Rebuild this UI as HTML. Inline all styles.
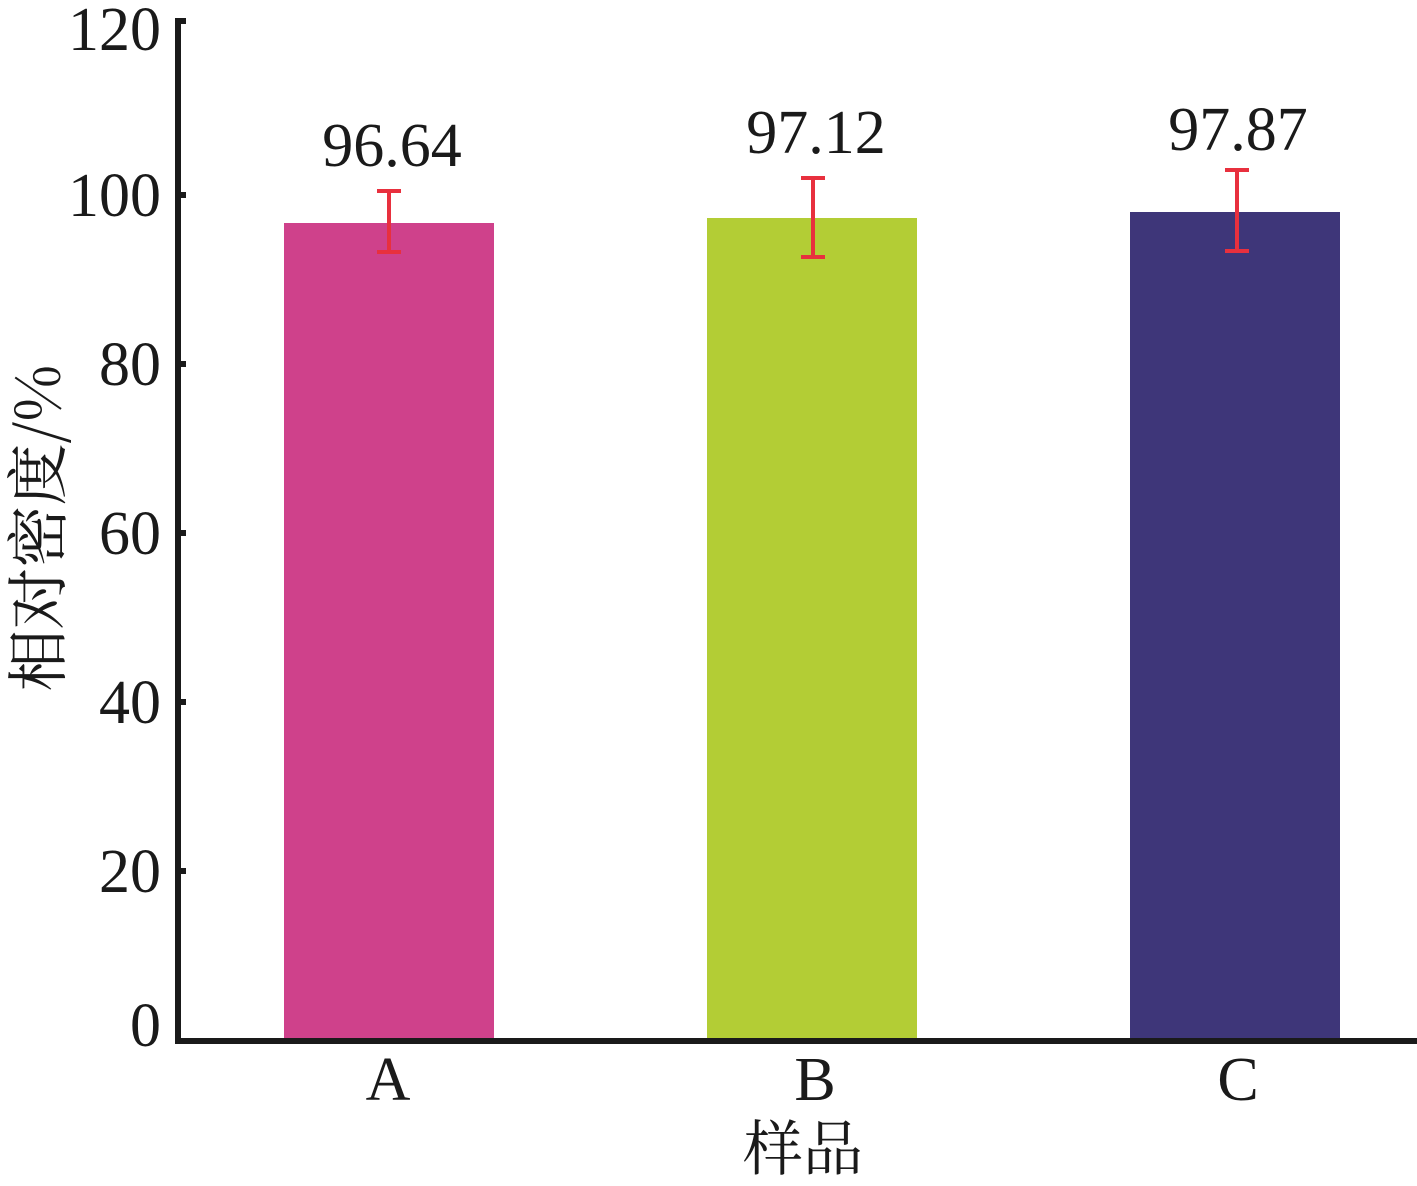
<!DOCTYPE html>
<html><head><meta charset="utf-8"><style>body{margin:0;background:#fff}
text{font-family:"Liberation Serif","Times New Roman","Noto Serif CJK SC",serif}
.cjk{font-family:"Noto Serif CJK SC","Liberation Serif",serif}</style></head><body>
<svg width="1417" height="1181" xmlns="http://www.w3.org/2000/svg">
<rect width="1417" height="1181" fill="#fff"/>
<rect x="284" y="223" width="210" height="816" fill="#cf418b"/>
<rect x="707" y="218" width="210" height="821" fill="#b3cd35"/>
<rect x="1130" y="212" width="210" height="827" fill="#3e3679"/>
<g stroke="#e8303e" stroke-width="4">
<line x1="389" y1="191" x2="389" y2="252"/><line x1="377" y1="191" x2="401" y2="191"/><line x1="377" y1="252" x2="401" y2="252"/>
<line x1="813" y1="178" x2="813" y2="257"/><line x1="801" y1="178" x2="825" y2="178"/><line x1="801" y1="257" x2="825" y2="257"/>
<line x1="1237" y1="170" x2="1237" y2="251"/><line x1="1225" y1="170" x2="1249" y2="170"/><line x1="1225" y1="251" x2="1249" y2="251"/>
</g>
<g stroke="#1a1a1a" stroke-width="6" fill="none">
<polyline points="186,21 178,21 178,1041 1417,1041"/>
<line x1="178" y1="195" x2="186" y2="195"/>
<line x1="178" y1="364" x2="186" y2="364"/>
<line x1="178" y1="533" x2="186" y2="533"/>
<line x1="178" y1="702" x2="186" y2="702"/>
<line x1="178" y1="871" x2="186" y2="871"/>
</g>
<g font-size="62" fill="#1a1a1a" text-anchor="end">
<text x="161" y="50">120</text><text x="161" y="216">100</text><text x="161" y="385">80</text>
<text x="161" y="554">60</text><text x="161" y="723">40</text><text x="161" y="892">20</text><text x="161" y="1046">0</text>
</g>
<g font-size="62" fill="#1a1a1a" text-anchor="middle">
<text x="392" y="166">96.64</text><text x="816" y="153">97.12</text><text x="1238" y="150">97.87</text>
<text x="388" y="1100">A</text><text x="815" y="1100">B</text><text x="1238" y="1100">C</text>
<text x="803" y="1170" font-size="60" class="cjk">样品</text>
<text transform="translate(60,528) rotate(-90)" font-size="62" class="cjk">相对密度/%</text>
</g>
</svg>
</body></html>
